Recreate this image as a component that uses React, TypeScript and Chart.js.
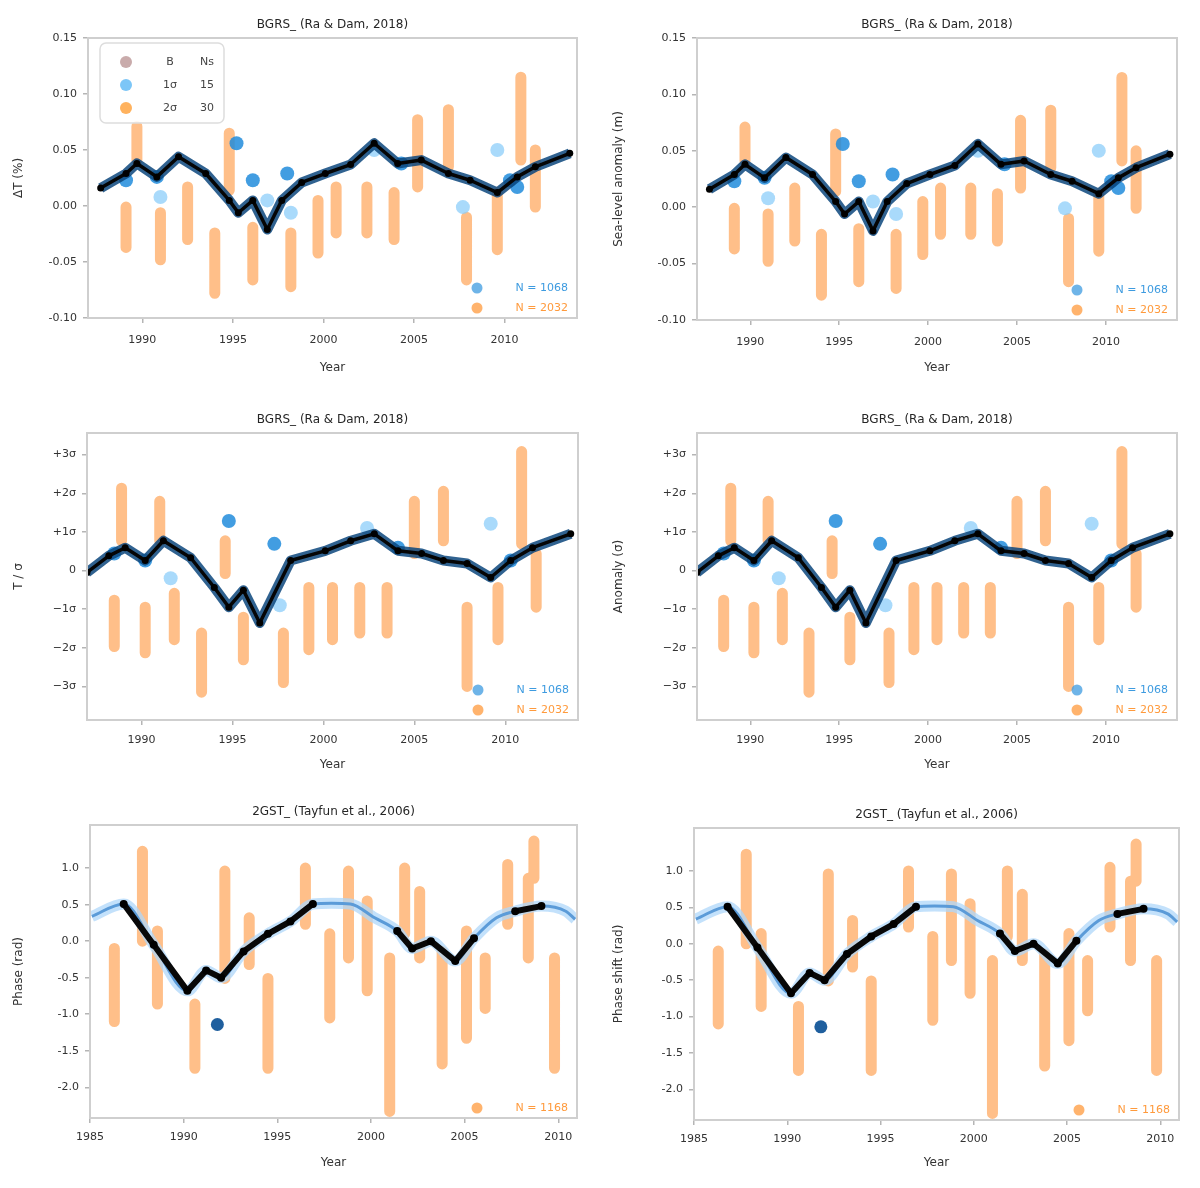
import React, { useEffect, useRef } from "react";
import { Chart, registerables } from "chart.js";

Chart.register(...registerables);

const FONT = "'DejaVu Sans', sans-serif";

// ---------------- Row 1 series (both panels) ----------------
const yearsA = [1987.7, 1989.1, 1989.7, 1990.8, 1992.0, 1993.5, 1994.8, 1995.3, 1996.1, 1996.9, 1997.7, 1998.8, 2000.1, 2001.5, 2002.8, 2004.1, 2005.4, 2006.9, 2008.1, 2009.6, 2010.7, 2011.7, 2013.6];
const valuesA = [0.016, 0.029, 0.038, 0.026, 0.044, 0.029, 0.005, -0.006, 0.005, -0.021, 0.005, 0.021, 0.029, 0.037, 0.056, 0.038, 0.041, 0.029, 0.023, 0.012, 0.026, 0.035, 0.047];
const blueYearsA = [1989.1, 1990.8, 1995.2, 1996.1, 1998.0, 2004.3, 2010.3, 2010.7];
const blueValuesA = [0.023, 0.026, 0.056, 0.023, 0.029, 0.038, 0.023, 0.017];
const lightYearsA = [1991.0, 1996.9, 1998.2, 2002.8, 2007.7, 2009.6];
const lightValuesA = [0.008, 0.005, -0.006, 0.05, -0.001, 0.05];
const orangeYearsA = [1989.1, 1989.7, 1991.0, 1992.5, 1994.0, 1994.8, 1996.1, 1998.2, 1999.7, 2000.7, 2002.4, 2003.9, 2005.2, 2006.9, 2007.9, 2009.6, 2010.9, 2011.7];
const orangeHighA = [-0.001, 0.071, -0.006, 0.017, -0.024, 0.065, -0.019, -0.024, 0.005, 0.017, 0.017, 0.012, 0.077, 0.086, -0.01, 0.012, 0.115, 0.05];
const orangeLowA = [-0.037, 0.041, -0.048, -0.03, -0.078, 0.014, -0.066, -0.072, -0.042, -0.024, -0.024, -0.03, 0.017, 0.035, -0.066, -0.039, 0.041, -0.001];

// ---------------- Row 2 series (both panels) ----------------
const yearsB = [1987.0, 1988.2, 1989.1, 1990.2, 1991.2, 1992.7, 1994.0, 1994.8, 1995.6, 1996.5, 1998.2, 2000.1, 2001.5, 2002.8, 2004.1, 2005.4, 2006.6, 2007.9, 2009.2, 2010.3, 2011.5, 2013.6];
const valuesB = [-0.05, 0.38, 0.59, 0.26, 0.77, 0.33, -0.44, -0.95, -0.51, -1.36, 0.26, 0.51, 0.77, 0.95, 0.51, 0.44, 0.26, 0.18, -0.18, 0.26, 0.59, 0.95];
const blueYearsB = [1988.5, 1990.2, 1994.8, 1997.3, 2004.1, 2010.3];
const blueValuesB = [0.44, 0.26, 1.28, 0.69, 0.59, 0.26];
const lightYearsB = [1991.6, 1997.6, 2002.4, 2009.2];
const lightValuesB = [-0.2, -0.9, 1.1, 1.21];
const orangeYearsB = [1988.9, 1988.5, 1990.2, 1991.0, 1991.8, 1993.3, 1994.6, 1995.6, 1997.8, 1999.2, 2000.5, 2002.0, 2003.5, 2005.0, 2006.6, 2007.9, 2009.6, 2010.9, 2011.7];
const orangeHighB = [2.13, -0.77, -0.95, 1.79, -0.59, -1.62, 0.77, -1.21, -1.62, -0.44, -0.44, -0.44, -0.44, 1.79, 2.05, -0.95, -0.44, 3.08, 0.44];
const orangeLowB = [0.77, -1.97, -2.13, 0.77, -1.79, -3.15, -0.08, -2.31, -2.9, -2.05, -1.79, -1.62, -1.62, 0.44, 0.77, -3.0, -1.79, 0.69, -0.95];

// ---------------- Row 3 series (both panels) ----------------
const yearsC = [1985.1, 1986.8, 1988.4, 1990.2, 1991.2, 1992.0, 1993.2, 1994.5, 1995.7, 1996.9, 1997.9, 1998.9, 2000.2, 2001.4, 2002.2, 2003.2, 2004.5, 2005.5, 2006.7, 2007.7, 2009.1, 2010.4, 2010.9];
const modelC = [0.34, 0.51, -0.05, -0.68, -0.4, -0.5, -0.14, 0.1, 0.27, 0.51, 0.52, 0.51, 0.32, 0.14, -0.1, 0.0, -0.27, 0.04, 0.32, 0.41, 0.48, 0.41, 0.3];
const observedC = [null, 0.51, -0.05, -0.68, -0.4, -0.5, -0.14, 0.1, 0.27, 0.51, null, null, null, 0.14, -0.1, 0.0, -0.27, 0.04, null, 0.41, 0.48, null, null];
const blueYearsC = [1991.8];
const blueValuesC = [-1.14];
const orangeYearsC = [1986.3, 1987.8, 1988.6, 1990.6, 1992.2, 1993.5, 1994.5, 1996.5, 1997.8, 1998.8, 1999.8, 2001.0, 2001.8, 2002.6, 2003.8, 2005.1, 2006.1, 2007.3, 2008.4, 2008.7, 2009.8];
const orangeHighC = [-0.1, 1.23, 0.14, -0.86, 0.96, 0.32, -0.51, 1.0, 0.1, 0.96, 0.55, -0.23, 1.0, 0.68, -0.14, 0.14, -0.23, 1.05, 0.86, 1.37, -0.23];
const orangeLowC = [-1.1, 0.0, -0.86, -1.74, -0.51, -0.32, -1.74, 0.23, -1.05, -0.23, -0.68, -2.33, 0.1, -0.23, -1.68, -1.33, -0.92, 0.23, -0.23, 0.86, -1.74];

// ---------------- Text ----------------
const titleAB = "BGRS_ (Ra & Dam, 2018)";
const titleC = "2GST_ (Tayfun et al., 2006)";
const legendRows = [
  ["B", "Ns"],
  ["1σ", "15"],
  ["2σ", "30"],
];
const countBlue = "N = 1068";
const countOrange = "N = 2032";
const countOrangeC = "N = 1168";

type Pt = { x: number; y: number | null };
const pts = (xs: number[], ys: (number | null)[]): Pt[] => xs.map((x, i) => ({ x, y: ys[i] }));
const streaks = (xs: number[], hi: number[], lo: number[]): Pt[] => {
  const out: Pt[] = [];
  xs.forEach((x, i) => {
    out.push({ x, y: hi[i] }, { x, y: lo[i] }, { x, y: null });
  });
  return out;
};

type Frame = { l: number; r: number; t: number; b: number };
type PanelCfg = {
  left: number;
  top: number;
  h: number;
  frame: Frame;
  kind: "A" | "B" | "C";
  title: string;
  yTitle: string;
  xTitle: string;
  yMin: number;
  yMax: number;
  yStep: number;
  yTickTop: number;
  yFmt: "fix2" | "sigma" | "fix1";
  xTitlePad: number;
  xTickPad: number;
  topLegend: boolean;
  counts: { text: string; color: string }[];
};

const BLUE_TXT = "#3d9be0";
const ORANGE_TXT = "#ff9a3c";

const panels: PanelCfg[] = [
  { left: 0, top: 0, h: 395, frame: { l: 88, r: 577, t: 38, b: 318 }, kind: "A", title: titleAB, yTitle: "ΔT (%)", xTitle: "Year", yMin: -0.1, yMax: 0.15, yStep: 0.05, yTickTop: 0.15, yFmt: "fix2", xTitlePad: 20, xTickPad: 11, topLegend: true, counts: [{ text: countBlue, color: BLUE_TXT }, { text: countOrange, color: ORANGE_TXT }] },
  { left: 600, top: 0, h: 395, frame: { l: 97, r: 577, t: 38, b: 320 }, kind: "A", title: titleAB, yTitle: "Sea-level anomaly (m)", xTitle: "Year", yMin: -0.1, yMax: 0.15, yStep: 0.05, yTickTop: 0.15, yFmt: "fix2", xTitlePad: 20, xTickPad: 11, topLegend: false, counts: [{ text: countBlue, color: BLUE_TXT }, { text: countOrange, color: ORANGE_TXT }] },
  { left: 0, top: 395, h: 395, frame: { l: 87, r: 578, t: 38, b: 325 }, kind: "B", title: titleAB, yTitle: "T / σ", xTitle: "Year", yMin: -3.87, yMax: 3.56, yStep: 1, yTickTop: 3, yFmt: "sigma", xTitlePad: 18, xTickPad: 9, topLegend: false, counts: [{ text: countBlue, color: BLUE_TXT }, { text: countOrange, color: ORANGE_TXT }] },
  { left: 600, top: 395, h: 395, frame: { l: 97, r: 577, t: 38, b: 325 }, kind: "B", title: titleAB, yTitle: "Anomaly (σ)", xTitle: "Year", yMin: -3.87, yMax: 3.56, yStep: 1, yTickTop: 3, yFmt: "sigma", xTitlePad: 18, xTickPad: 9, topLegend: false, counts: [{ text: countBlue, color: BLUE_TXT }, { text: countOrange, color: ORANGE_TXT }] },
  { left: 0, top: 790, h: 398, frame: { l: 90, r: 577, t: 35, b: 328 }, kind: "C", title: titleC, yTitle: "Phase (rad)", xTitle: "Year", yMin: -2.42, yMax: 1.59, yStep: 0.5, yTickTop: 1.0, yFmt: "fix1", xTitlePad: 18, xTickPad: 8, topLegend: false, counts: [{ text: countOrangeC, color: ORANGE_TXT }] },
  { left: 600, top: 790, h: 398, frame: { l: 94, r: 579, t: 38, b: 330 }, kind: "C", title: titleC, yTitle: "Phase shift (rad)", xTitle: "Year", yMin: -2.42, yMax: 1.59, yStep: 0.5, yTickTop: 1.0, yFmt: "fix1", xTitlePad: 18, xTickPad: 8, topLegend: false, counts: [{ text: countOrangeC, color: ORANGE_TXT }] },
];

const fmtY = (kind: PanelCfg["yFmt"]) => (v: number | string) => {
  let n = Number(v);
  if (Math.abs(n) < 1e-9) n = 0;
  if (kind === "fix2") return n.toFixed(2);
  if (kind === "fix1") return n.toFixed(1);
  const r = Math.round(n);
  if (r === 0) return "0";
  return (r > 0 ? "+" : "−") + Math.abs(r) + "σ";
};

const decorPlugin = {
  id: "panelDecor",
  afterDatasetsDraw(chart: any, _args: any, opts: any) {
    const { ctx, chartArea: a } = chart;
    ctx.save();
    // frame
    ctx.strokeStyle = "#cfcfcf";
    ctx.lineWidth = 2;
    ctx.strokeRect(a.left, a.top, a.right - a.left, a.bottom - a.top);
    // title
    ctx.fillStyle = "#262626";
    ctx.font = `12px ${FONT}`;
    ctx.textAlign = "center";
    ctx.textBaseline = "middle";
    ctx.fillText(opts.title, (a.left + a.right) / 2, a.top - 13);
    // count legend (bottom right)
    const counts = opts.counts as { text: string; color: string }[];
    ctx.font = `11px ${FONT}`;
    counts.forEach((c, i) => {
      const y = a.bottom - 10 - (counts.length - 1 - i) * 20;
      ctx.fillStyle = c.color;
      ctx.globalAlpha = 0.75;
      ctx.beginPath();
      ctx.arc(a.right - 100, y, 5.5, 0, Math.PI * 2);
      ctx.fill();
      ctx.globalAlpha = 1;
      ctx.textAlign = "right";
      ctx.fillText(c.text, a.right - 9, y);
    });
    // top-left legend
    if (opts.topLegend) {
      const x0 = a.left + 12;
      const y0 = a.top + 5;
      const w = 124;
      const h = 80;
      ctx.fillStyle = "rgba(255,255,255,0.85)";
      ctx.strokeStyle = "#dddddd";
      ctx.lineWidth = 1.5;
      ctx.beginPath();
      (ctx as any).roundRect(x0, y0, w, h, 6);
      ctx.fill();
      ctx.stroke();
      const markerColors = ["#c9abab", "#7cc6f7", "#ffb25e"];
      (opts.legendRows as string[][]).forEach((row, i) => {
        const y = y0 + 19 + i * 23;
        ctx.fillStyle = markerColors[i];
        ctx.beginPath();
        ctx.arc(x0 + 26, y, 6, 0, Math.PI * 2);
        ctx.fill();
        ctx.fillStyle = "#444";
        ctx.textAlign = "center";
        ctx.font = `11px ${FONT}`;
        ctx.fillText(row[0], x0 + 70, y);
        ctx.fillText(row[1], x0 + 107, y);
      });
    }
    ctx.restore();
  },
};

function buildDatasets(kind: PanelCfg["kind"]) {
  const orange = (xs: number[], hi: number[], lo: number[]) => ({
    data: streaks(xs, hi, lo),
    showLine: true,
    spanGaps: false,
    borderColor: "rgba(255,128,20,0.5)",
    borderWidth: 11,
    borderCapStyle: "round",
    pointRadius: 0,
  });
  if (kind === "C") {
    return [
      { data: pts(yearsC, observedC), showLine: true, spanGaps: false, borderColor: "#080808", borderWidth: 6, borderJoinStyle: "round", borderCapStyle: "round", pointRadius: 4, pointBackgroundColor: "#000", pointBorderWidth: 0 },
      { data: pts(blueYearsC, blueValuesC), pointRadius: 6.5, pointBackgroundColor: "#1f5f9e", pointBorderWidth: 0 },
      { data: pts(yearsC, modelC), showLine: true, borderColor: "#5b9bd8", borderWidth: 3, pointRadius: 0, cubicInterpolationMode: "monotone" },
      { data: pts(yearsC, modelC), showLine: true, borderColor: "rgba(175,215,250,0.75)", borderWidth: 11, pointRadius: 0, cubicInterpolationMode: "monotone" },
      orange(orangeYearsC, orangeHighC, orangeLowC),
    ];
  }
  const A = kind === "A";
  const ys = A ? yearsA : yearsB;
  const vs = A ? valuesA : valuesB;
  return [
    { data: pts(ys, vs), showLine: true, borderColor: "#050505", borderWidth: 3.5, borderJoinStyle: "round", pointRadius: 3.5, pointBackgroundColor: "#000", pointBorderWidth: 0 },
    { data: pts(ys, vs), showLine: true, borderColor: "rgba(12,70,125,0.85)", borderWidth: 10, borderJoinStyle: "round", pointRadius: 0 },
    { data: pts(A ? blueYearsA : blueYearsB, A ? blueValuesA : blueValuesB), pointRadius: 7, pointBackgroundColor: "rgba(33,140,220,0.85)", pointBorderWidth: 0 },
    { data: pts(A ? lightYearsA : lightYearsB, A ? lightValuesA : lightValuesB), pointRadius: 7, pointBackgroundColor: "rgba(140,205,250,0.75)", pointBorderWidth: 0 },
    A ? orange(orangeYearsA, orangeHighA, orangeLowA) : orange(orangeYearsB, orangeHighB, orangeLowB),
  ];
}

function buildConfig(p: PanelCfg): any {
  const xMin = p.kind === "C" ? 1985 : 1987;
  const xMax = p.kind === "C" ? 2011 : 2014;
  const f = p.frame;
  return {
    type: "scatter",
    data: { datasets: buildDatasets(p.kind) },
    plugins: [decorPlugin],
    options: {
      responsive: false,
      animation: false,
      events: [],
      layout: { padding: { top: f.t, right: 600 - f.r, left: 0, bottom: 0 } },
      plugins: {
        legend: { display: false },
        tooltip: { enabled: false },
        panelDecor: { title: p.title, counts: p.counts, topLegend: p.topLegend, legendRows },
      },
      scales: {
        x: {
          type: "linear",
          min: xMin,
          max: xMax,
          ticks: { stepSize: 5, includeBounds: false, autoSkip: false, maxRotation: 0, callback: (v: any) => String(v), color: "#333", font: { family: FONT, size: 11 }, padding: p.xTickPad },
          grid: { drawOnChartArea: false, drawTicks: true, tickLength: 5, color: "#b5b5b5", lineWidth: 1.5 },
          border: { display: true, color: "#cfcfcf", width: 2 },
          title: { display: true, text: p.xTitle, color: "#333", font: { family: FONT, size: 12 }, padding: { top: 0, bottom: p.xTitlePad } },
          afterFit: (s: any) => {
            s.height = p.h - f.b;
          },
        },
        y: {
          type: "linear",
          min: p.yMin,
          max: p.yMax,
          ticks: { stepSize: p.yStep, includeBounds: false, autoSkip: false, callback: fmtY(p.yFmt), color: "#333", font: { family: FONT, size: 11 }, padding: 6 },
          grid: { drawOnChartArea: false, drawTicks: true, tickLength: 5, color: "#b5b5b5", lineWidth: 1.5 },
          border: { display: true, color: "#cfcfcf", width: 2 },
          title: { display: true, text: p.yTitle, color: "#333", font: { family: FONT, size: 12 }, padding: { top: 12, bottom: 0 } },
          afterBuildTicks: (s: any) => {
            s.ticks = s.ticks.filter((t: any) => t.value <= p.yTickTop + 1e-9);
          },
          afterFit: (s: any) => {
            s.width = f.l;
          },
        },
      },
    },
  };
}

function Panel({ cfg }: { cfg: PanelCfg }) {
  const ref = useRef<HTMLCanvasElement | null>(null);
  useEffect(() => {
    if (!ref.current) return;
    const chart = new Chart(ref.current, buildConfig(cfg));
    return () => chart.destroy();
  }, [cfg]);
  return (
    <div style={{ position: "absolute", left: cfg.left, top: cfg.top, width: 600, height: cfg.h }}>
      <canvas ref={ref} width={600} height={cfg.h} style={{ display: "block" }} />
    </div>
  );
}

export default function App() {
  return (
    <div style={{ position: "absolute", left: 0, top: 0, width: 1200, height: 1188, background: "#fff", overflow: "hidden" }}>
      {panels.map((p, i) => (
        <Panel key={i} cfg={p} />
      ))}
    </div>
  );
}
